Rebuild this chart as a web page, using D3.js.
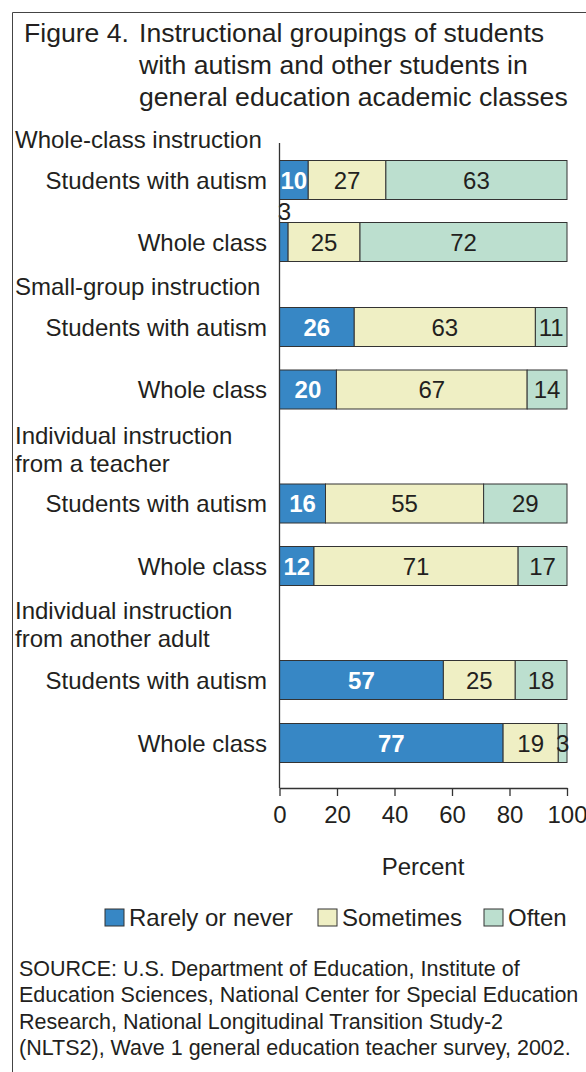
<!DOCTYPE html>
<html><head><meta charset="utf-8">
<script src="https://cdn.jsdelivr.net/npm/d3@7"></script>
<style>
html,body{margin:0;padding:0;background:#fff;}
svg{display:block;font-family:"Liberation Sans",Arial,sans-serif;}
</style></head>
<body>
<svg id="c" width="586" height="1072"></svg>
<script>
const groups = ["Whole-class instruction", "Small-group instruction", "Individual instruction|from a teacher", "Individual instruction|from another adult"];
const rowLabels = ["Students with autism", "Whole class"];
const seriesNames = ["Rarely or never", "Sometimes", "Often"];
const rarely    = [10, 3, 26, 20, 16, 12, 57, 77];
const sometimes = [27, 25, 63, 67, 55, 71, 25, 19];
const often     = [63, 72, 11, 14, 29, 17, 18, 3];
const xTicks = [0, 20, 40, 60, 80, 100];
const colors = ["#3787c5", "#efefc4", "#bcdfcf"];

const svg = d3.select("#c");
const ink = "#231f20";
const FS = 24;

// frame
svg.append("path").attr("d","M12.5,1072 L12.5,12.5 L586,12.5").attr("fill","none").attr("stroke","#444").attr("stroke-width",1);

// title
const title = svg.append("g").attr("font-size",26.6).attr("fill",ink);
title.append("text").attr("x",24).attr("y",42).text("Figure 4.");
["Instructional groupings of students","with autism and other students in","general education academic classes"].forEach((t,i)=>{
  title.append("text").attr("x",139).attr("y",42+i*32).text(t);
});

const x = d3.scaleLinear().domain([0,100]).range([279.5,567]);
const rowCenters = [180, 242, 327, 389.5, 503.5, 566, 680, 743];
const rowIdx = d3.range(rarely.length);
const y = d3.scaleOrdinal().domain(rowIdx).range(rowCenters);
const barH = 39;

// group labels
const groupY = [[139],[286],[435,463],[610,638]];
groups.forEach((g,i)=>{
  g.split("|").forEach((line,j)=>{
    svg.append("text").attr("x",15).attr("y",groupY[i][j]+8.5).attr("font-size",FS).attr("fill",ink).text(line);
  });
});
// row labels
rowIdx.forEach(i=>{
  svg.append("text").attr("x",267).attr("y",y(i)+8.5).attr("text-anchor","end").attr("font-size",FS).attr("fill",ink).text(rowLabels[i%2]);
});

// stacked data (segments drawn proportional to the row total)
const data = rowIdx.map(i=>({i, v:[rarely[i],sometimes[i],often[i]]}));
data.forEach(d=>{
  const tot = d3.sum(d.v);
  let acc=0;
  d.v.forEach((val,k)=>{
    const x0=x(acc*100/tot), x1=x((acc+val)*100/tot);
    svg.append("rect").attr("x",x0).attr("y",y(d.i)-barH/2).attr("width",x1-x0).attr("height",barH)
      .attr("fill",colors[k]).attr("stroke","#333").attr("stroke-width",1);
    let lx=(x0+x1)/2, ly=y(d.i)+8.5;
    if (k===0 && val<5){ lx = x0+5; ly = y(d.i)-barH/2-3; }
    const t = svg.append("text").attr("x",lx).attr("y",ly).attr("text-anchor","middle").attr("font-size",FS).text(val);
    if (k===0 && val>=5){ t.attr("fill","#fff").attr("font-weight","bold"); } else { t.attr("fill",ink); }
    acc+=val;
  });
});

// axes
svg.append("line").attr("x1",x(0)).attr("x2",x(0)).attr("y1",143).attr("y2",788).attr("stroke","#333").attr("stroke-width",1.3);
const axis = d3.axisBottom(x).tickValues(xTicks).tickSize(8).tickSizeOuter(0);
const ag = svg.append("g").attr("transform","translate(0,788)").call(axis);
ag.select(".domain").attr("stroke","#333").attr("stroke-width",1.3);
ag.selectAll(".tick line").attr("stroke","#333").attr("stroke-width",1.3);
ag.selectAll(".tick text").attr("font-size",FS).attr("fill",ink).attr("font-family","Liberation Sans, Arial, sans-serif").attr("dy","1.0em");
svg.append("text").attr("x",423).attr("y",875).attr("text-anchor","middle").attr("font-size",FS).attr("fill",ink).text("Percent");

// legend
const legX = [105, 318, 484];
seriesNames.forEach((n,k)=>{
  svg.append("rect").attr("x",legX[k]).attr("y",909).attr("width",19).attr("height",17).attr("fill",colors[k]).attr("stroke","#333").attr("stroke-width",1);
  svg.append("text").attr("x",legX[k]+24).attr("y",926).attr("font-size",FS).attr("fill",ink).text(n);
});

// source
const src = ["SOURCE: U.S. Department of Education, Institute of","Education Sciences, National Center for Special Education","Research, National Longitudinal Transition Study-2","(NLTS2), Wave 1 general education teacher survey, 2002."];
src.forEach((s,i)=>{
  svg.append("text").attr("x",19).attr("y",976+i*26.3).attr("font-size",21.5).attr("fill",ink).text(s);
});
</script>
</body></html>
